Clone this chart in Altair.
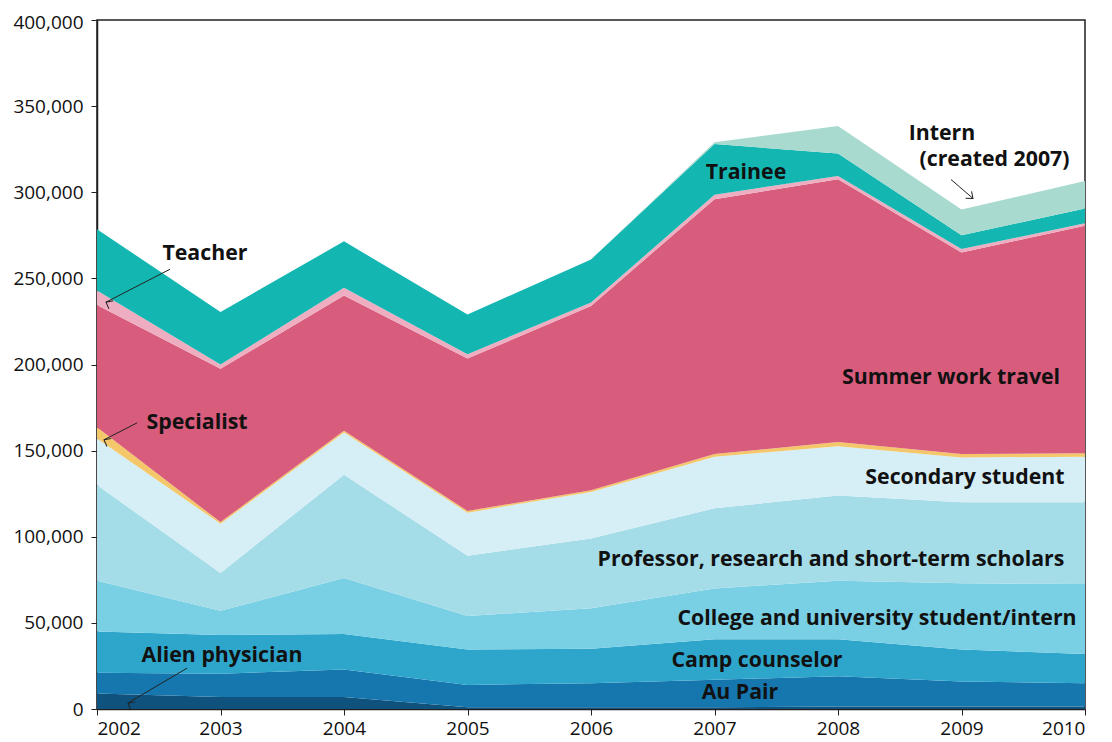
import altair as alt
import pandas as pd

years = [2002, 2003, 2004, 2005, 2006, 2007, 2008, 2009, 2010]

categories = [
    "Alien physician", "Au Pair", "Camp counselor",
    "College and university student/intern",
    "Professor, research and short-term scholars",
    "Secondary student", "Specialist", "Summer work travel",
    "Teacher", "Trainee", "Intern",
]

alien_physician = [9000, 7000, 7000, 1000, 1000, 1000, 1500, 1500, 1500]
au_pair = [12000, 13500, 16000, 13000, 14000, 16000, 17500, 14500, 13500]
camp_counselor = [24000, 22500, 20500, 20500, 20000, 23500, 21500, 18500, 17000]
college_student = [29500, 14000, 32500, 19500, 23500, 29500, 34000, 38500, 40500]
professor_scholars = [55500, 22000, 60000, 35000, 40500, 46500, 49500, 47000, 47500]
secondary_student = [27000, 28500, 24500, 25000, 27000, 30000, 28500, 26000, 26500]
specialist = [6500, 1000, 1000, 1000, 1000, 1500, 2500, 2000, 2000]
summer_work_travel = [71000, 89000, 78500, 88500, 107000, 148000, 152500, 117000, 132000]
teacher = [8500, 2500, 4500, 2500, 2000, 2500, 2000, 2000, 1500]
trainee = [35500, 30500, 27000, 23000, 25000, 29500, 13000, 8000, 8500]
intern = [0, 0, 0, 0, 0, 1000, 16000, 15000, 16000]

series = [alien_physician, au_pair, camp_counselor, college_student,
          professor_scholars, secondary_student, specialist,
          summer_work_travel, teacher, trainee, intern]

colors = ["#0f527e", "#1676ae", "#2ea6cc", "#79cfe4", "#a4dce8",
          "#d6eef5", "#f4c76b", "#d85c7c", "#eeadc0", "#14b6b1", "#a8dacf"]

y_ticks = list(range(0, 400001, 50000))

rows = []
for i, (cat, vals) in enumerate(zip(categories, series)):
    for y, v in zip(years, vals):
        rows.append({"year": y, "category": cat, "value": v, "order": i})
df = pd.DataFrame(rows)

# annotation labels (data coordinates)
label_text = ["Teacher", "Specialist", "Alien physician", "Au Pair",
              "Camp counselor", "College and university student/intern",
              "Professor, research and short-term scholars",
              "Secondary student", "Summer work travel", "Trainee",
              "Intern", "(created 2007)"]
label_x = [2002.874, 2002.810, 2003.012, 2007.206, 2007.344, 2008.316,
           2007.943, 2009.028, 2008.915, 2007.255, 2008.842, 2009.267]
label_y = [264000, 166000, 31000, 9300, 27800, 52500, 86500, 134000,
           192000, 311000, 334000, 318500]
labels = pd.DataFrame({"text": label_text, "x": label_x, "y": label_y})

# arrows: start -> end (data coordinates)
arrow_x1 = [2002.591, 2002.324, 2002.729, 2008.915]
arrow_y1 = [255300, 166100, 23700, 307400]
arrow_x2 = [2002.073, 2002.057, 2002.251, 2009.093]
arrow_y2 = [236200, 156300, 3500, 296400]
arrow_angle = [208, 208, 210, 40]
arrows = pd.DataFrame({"x1": arrow_x1, "y1": arrow_y1, "x2": arrow_x2,
                       "y2": arrow_y2, "angle": arrow_angle})

FONT = "Open Sans"

xscale = alt.Scale(domain=[2002, 2010], nice=False)
yscale = alt.Scale(domain=[0, 400000], nice=False)
xaxis = alt.Axis(values=years, format="d", title=None, grid=False,
                 tickSize=6, labelPadding=4)
yaxis = alt.Axis(values=y_ticks, format=",d", title=None, grid=False,
                 tickSize=6, labelPadding=8,
                 labelOffset=alt.condition("datum.value == 400000",
                                           alt.value(2), alt.value(0)))

area = alt.Chart(df).mark_area(opacity=1).encode(
    x=alt.X("year:Q", scale=xscale, axis=xaxis),
    y=alt.Y("value:Q", stack="zero", scale=yscale, axis=yaxis),
    color=alt.Color("category:N",
                    scale=alt.Scale(domain=categories, range=colors),
                    legend=None),
    order=alt.Order("order:Q", sort="ascending"),
)

text = alt.Chart(labels).mark_text(
    font=FONT, fontWeight="bold", fontSize=21.3, color="#111111"
).encode(
    x=alt.X("x:Q", scale=xscale, axis=xaxis),
    y=alt.Y("y:Q", scale=yscale, axis=yaxis),
    text="text:N",
)

lines = alt.Chart(arrows).mark_rule(color="#222222", strokeWidth=1).encode(
    x=alt.X("x1:Q", scale=xscale, axis=xaxis),
    y=alt.Y("y1:Q", scale=yscale, axis=yaxis),
    x2="x2:Q", y2="y2:Q",
)

heads = alt.Chart(arrows).mark_point(
    shape="M-1,-0.8L0,0L-1,0.8", filled=False, color="#222222",
    strokeWidth=1, size=130, opacity=1
).encode(
    x=alt.X("x2:Q", scale=xscale, axis=xaxis),
    y=alt.Y("y2:Q", scale=yscale, axis=yaxis),
    angle=alt.Angle("angle:Q", scale=None),
)

chart = alt.layer(area, lines, heads, text).properties(
    width=988, height=689,
    background="white",
    autosize=alt.AutoSizeParams(type="none"),
    padding={"left": 89, "top": 12, "right": 10, "bottom": 30},
).configure_view(
    stroke="#231f20", strokeWidth=1.5
).configure_axis(
    domainColor="#231f20", tickColor="#231f20", domainWidth=1.5,
    labelFont=FONT, labelFontSize=19, labelColor="#111111",
)

chart.save("out.html", embed_options={"renderer": "svg", "actions": False})
